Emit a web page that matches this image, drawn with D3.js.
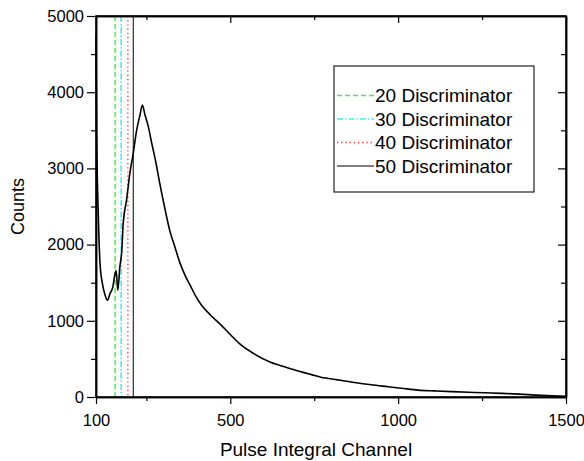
<!DOCTYPE html>
<html>
<head>
<meta charset="utf-8">
<script src="https://cdn.jsdelivr.net/npm/d3@7"></script>
<style>
  html, body { margin: 0; padding: 0; background: #fff; }
  svg { display: block; }
  text { font-family: "Liberation Sans", Arial, sans-serif; fill: #000; }
</style>
</head>
<body>
<svg id="chart" width="584" height="461"></svg>
<script>
// ---- data ----
const channels = [100,102,107,112,119,127,134,142,150,157,160,165,171,177,181,191,201,211,221,231,238,246,256,266,276,291,306,320,335,350,365,380,400,415,440,469,500,530,570,620,670,720,770,820,870,920,970,1010,1060,1110,1160,1210,1260,1310,1360,1410,1460,1500];
const counts   = [4730,3465,2365,1755,1490,1340,1270,1360,1440,1625,1660,1400,1705,1930,2280,2585,2940,3200,3500,3700,3830,3700,3545,3330,3130,2780,2455,2180,1970,1760,1600,1470,1300,1200,1080,960,820,690,570,455,385,320,260,225,190,160,135,115,90,80,70,62,55,48,38,25,15,8];
const discNames = ["20 Discriminator","30 Discriminator","40 Discriminator","50 Discriminator"];
const discChannels = [157,175,195,211];
const xMajorTicks = [100,500,1000,1500];
const xMinorTicks = [250,750,1250];
const yMajorTicks = [0,1000,2000,3000,4000,5000];
const yMinorTicks = [500,1500,2500,3500,4500];
const xTitle = "Pulse Integral Channel";
const yTitle = "Counts";

// ---- layout / styles ----
const L = 96, R = 566, T = 16, B = 397;
const discStyles = [
  {color:"#44ee44", dash:"5,3", width:1.4},
  {color:"#44eeee", dash:"6,2,1.5,2", width:1.6},
  {color:"#ff2222", dash:"1.2,3", width:1.3},
  {color:"#000000", dash:null, width:1}
];

const svg = d3.select("#chart");
svg.append("rect").attr("width",584).attr("height",461).attr("fill","#fff");

const x = d3.scaleLinear().domain([100,1500]).range([L,R]);
const y = d3.scaleLinear().domain([0,5000]).range([B,T]);

// discriminator lines
const g = svg.append("g");
discChannels.forEach((c,i)=>{
  const s = discStyles[i];
  g.append("line")
    .attr("x1",x(c)).attr("x2",x(c)).attr("y1",T).attr("y2",B)
    .attr("stroke",s.color).attr("stroke-width",s.width)
    .attr("stroke-dasharray",s.dash);
});

// spectrum
const pts = channels.map((c,i)=>[c,counts[i]]);
g.append("path").datum(pts)
  .attr("fill","none").attr("stroke","#000").attr("stroke-width",1.6)
  .attr("stroke-linejoin","round")
  .attr("d", d3.line().curve(d3.curveMonotoneX).x(d=>x(d[0])).y(d=>y(d[1])));

// axes
const axFont = "16.5px";
svg.append("g").attr("transform",`translate(0,${B})`)
  .call(d3.axisBottom(x).tickValues(xMajorTicks).tickSize(7).tickSizeOuter(0).tickPadding(10).tickFormat(d3.format("d")));
svg.append("g").attr("transform",`translate(0,${B})`)
  .call(d3.axisBottom(x).tickValues(xMinorTicks).tickSize(4).tickSizeOuter(0).tickFormat(""));
svg.append("g").attr("transform",`translate(${L},0)`)
  .call(d3.axisLeft(y).tickValues(yMajorTicks).tickSize(9).tickSizeOuter(0).tickPadding(3).tickFormat(d3.format("d")));
svg.append("g").attr("transform",`translate(${L},0)`)
  .call(d3.axisLeft(y).tickValues(yMinorTicks).tickSize(5).tickSizeOuter(0).tickFormat(""));
// top & right (inward ticks)
svg.append("g").attr("transform",`translate(0,${T})`)
  .call(d3.axisTop(x).tickValues(xMajorTicks).tickSize(-7).tickSizeOuter(0).tickFormat(""));
svg.append("g").attr("transform",`translate(0,${T})`)
  .call(d3.axisTop(x).tickValues(xMinorTicks).tickSize(-4).tickSizeOuter(0).tickFormat(""));
svg.append("g").attr("transform",`translate(${R},0)`)
  .call(d3.axisRight(y).tickValues(yMajorTicks).tickSize(-8).tickSizeOuter(0).tickFormat(""));
svg.append("g").attr("transform",`translate(${R},0)`)
  .call(d3.axisRight(y).tickValues(yMinorTicks).tickSize(-5).tickSizeOuter(0).tickFormat(""));

svg.selectAll(".domain").attr("stroke","#000").attr("stroke-width",1.5);
svg.selectAll(".tick line").attr("stroke","#000").attr("stroke-width",1.2);
svg.selectAll(".tick text").attr("font-size",axFont).attr("fill","#000");

// frame
svg.append("rect").attr("x",L).attr("y",T).attr("width",R-L).attr("height",B-T)
  .attr("fill","none").attr("stroke","#000").attr("stroke-width",1.5);

// titles
svg.append("text").attr("x",316).attr("y",456).attr("text-anchor","middle")
  .attr("font-size","19px").text(xTitle);
svg.append("text").attr("transform",`translate(24,${(T+B)/2}) rotate(-90)`)
  .attr("text-anchor","middle").attr("font-size","18px").text(yTitle);

// legend
const lg = svg.append("g");
lg.append("rect").attr("x",334).attr("y",66).attr("width",200).attr("height",126)
  .attr("fill","#fff").attr("stroke","#333").attr("stroke-width",1.3);
discNames.forEach((n,i)=>{
  const yy = 95.5 + i*23.5;
  const s = discStyles[i];
  lg.append("line").attr("x1",337).attr("x2",374).attr("y1",yy).attr("y2",yy)
    .attr("stroke",s.color).attr("stroke-width",s.width).attr("stroke-dasharray",s.dash);
  lg.append("text").attr("x",375).attr("y",yy).attr("dy","0.36em")
    .attr("font-size","19px").text(n);
});
</script>
</body>
</html>
